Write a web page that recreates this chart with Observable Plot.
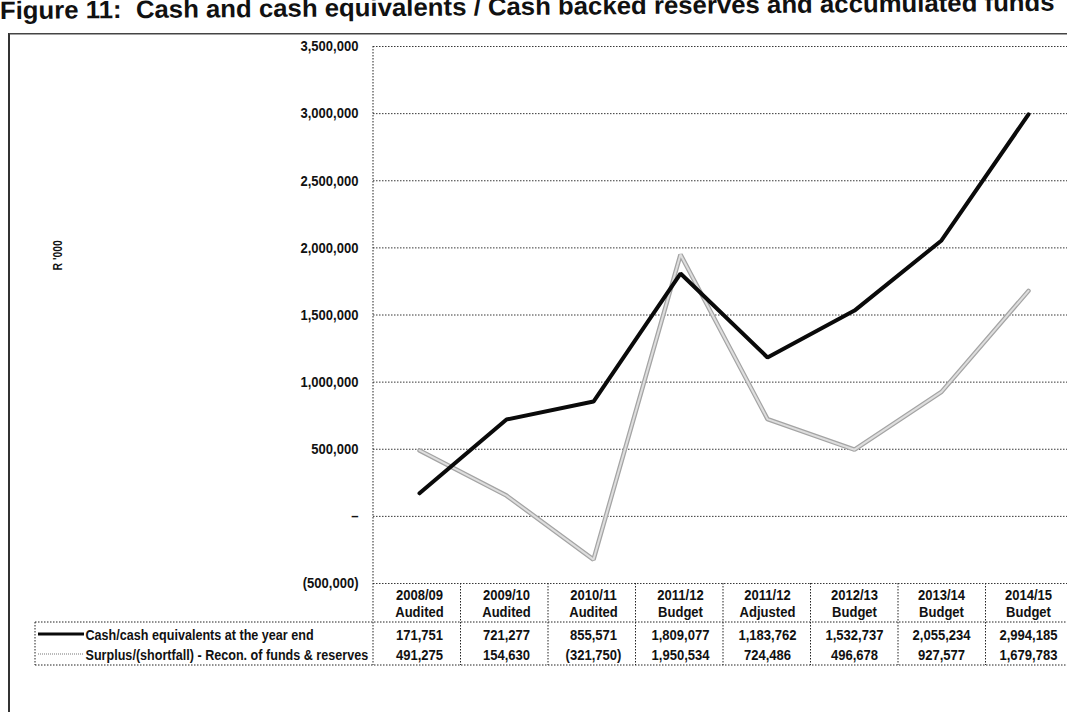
<!DOCTYPE html>
<html><head><meta charset="utf-8">
<script src="https://cdn.jsdelivr.net/npm/d3@7"></script>
<script src="https://cdn.jsdelivr.net/npm/@observablehq/plot@0.6"></script>
<style>
html,body{margin:0;padding:0;background:#fff;width:1067px;height:712px;overflow:hidden}
#title{position:relative;width:1067px;height:33px;overflow:hidden}
#title span{position:absolute;left:0px;top:-2px;font:bold 25px "Liberation Sans",Arial,sans-serif;line-height:1;color:#111;white-space:nowrap;transform:rotate(-0.45deg) scaleX(1.03);transform-origin:0 100%}
#chart{width:1067px;height:679px;overflow:hidden}
#chart svg{display:block}
</style></head>
<body>
<div id="title"><span>Figure 11:&nbsp; Cash and cash equivalents / Cash backed reserves and accumulated funds</span></div>
<div id="chart"></div>
<script>
const categories = ["2008/09\nAudited","2009/10\nAudited","2010/11\nAudited","2011/12\nBudget","2011/12\nAdjusted","2012/13\nBudget","2013/14\nBudget","2014/15\nBudget"];
const cashValues = [171751, 721277, 855571, 1809077, 1183762, 1532737, 2055234, 2994185];
const surplusValues = [491275, 154630, -321750, 1950534, 724486, 496678, 927577, 1679783];
const seriesNames = ["Cash/cash equivalents at the year end", "Surplus/(shortfall) - Recon. of funds & reserves"];
const yTicks = [-500000, 0, 500000, 1000000, 1500000, 2000000, 2500000, 3000000, 3500000];
const yLabel = "R '000";

const fmt = d3.format(",");
const tickFmt = v => v === 0 ? "\u2013" : v < 0 ? `(${fmt(-v)})` : fmt(v);
const cashData = categories.map((c, i) => ({category: c, value: cashValues[i]}));
const surplusData = categories.map((c, i) => ({category: c, value: surplusValues[i]}));

const W = 1067, H = 679, TOP = 33; // svg starts at page y = 33; the last column runs past the right edge
const font = "'Liberation Sans',Arial,sans-serif";
const FS = 15;
const txt = {fontSize: FS, fontWeight: "bold", fill: "#111"};
const rowLabel = {...txt, className: "rowlabel"};

const chart = Plot.plot({
  width: W, height: H,
  marginLeft: 373, marginRight: -6, marginTop: 13, marginBottom: 129,
  style: {fontFamily: font, fontSize: FS + "px", fontWeight: "bold", color: "#111", background: "#fff", overflow: "hidden"},
  x: {type: "point", domain: categories, padding: 0.5, align: 0.5, axis: null},
  y: {domain: [-500000, 3500000], axis: null},
  marks: [
    Plot.gridY(yTicks, {stroke: "#222", strokeOpacity: 0.9, strokeWidth: 1, strokeDasharray: "1.5,1.5"}),
    Plot.axisY(yTicks, {tickFormat: tickFmt, tickSize: 0, tickPadding: 15, fontSize: FS, fontWeight: "bold", label: null}),
    Plot.line(surplusData, {x: "category", y: "value", stroke: "#a4a4a4", strokeWidth: 4.5, strokeLinejoin: "miter"}),
    Plot.line(surplusData, {x: "category", y: "value", stroke: "#dedede", strokeWidth: 2, strokeLinejoin: "miter"}),
    Plot.line(cashData, {x: "category", y: "value", stroke: "#0a0a0a", strokeWidth: 4, strokeLinejoin: "miter"}),
    // table header (two lines)
    Plot.text(categories, {x: d => d, text: d => d.split("\n")[0], frameAnchor: "bottom", dy: 12, lineAnchor: "middle", ...txt}),
    Plot.text(categories, {x: d => d, text: d => d.split("\n")[1], frameAnchor: "bottom", dy: 29, lineAnchor: "middle", ...txt}),
    // table values
    Plot.text(categories, {x: d => d, text: (d, i) => tickFmt(cashValues[i]), frameAnchor: "bottom", dy: 52, lineAnchor: "middle", ...txt}),
    Plot.text(categories, {x: d => d, text: (d, i) => tickFmt(surplusValues[i]), frameAnchor: "bottom", dy: 72, lineAnchor: "middle", ...txt}),
    // row labels
    Plot.text([seriesNames[0]], {frameAnchor: "bottom-left", dx: 85 - 373, dy: 52, textAnchor: "start", lineAnchor: "middle", ...rowLabel}),
    Plot.text([seriesNames[1]], {frameAnchor: "bottom-left", dx: 85 - 373, dy: 72, textAnchor: "start", lineAnchor: "middle", ...rowLabel}),
    // y label
    Plot.text([yLabel], {frameAnchor: "left", dx: 58 - 373, dy: 270 - 33 - (13 + (H - 13 - 129) / 2), rotate: -90, fontSize: 12, fontWeight: "bold", fill: "#111"})
  ]
});
document.getElementById("chart").appendChild(chart);

// narrow the bold face around each text's anchor (the reference uses a condensed bold type)
d3.select(chart).selectAll("text").each(function() {
  const b = this.getBBox();
  if (!b.width) return;
  const anchor = getComputedStyle(this).textAnchor;
  const ax = anchor === "middle" ? b.x + b.width / 2 : anchor === "end" ? b.x + b.width : b.x;
  const s = this.closest(".rowlabel") ? 0.84 : 0.87;
  const t = this.getAttribute("transform") || "";
  this.setAttribute("transform", `${t} translate(${ax},0) scale(${s},1) translate(${-ax},0)`);
});

// table grid, axis line, outer frame, legend swatches
const svg = d3.select(chart);
const xs = chart.scale("x"), ys = chart.scale("y");
const [x0, x1] = xs.range;
const step = (x1 - x0) / categories.length;
const yb = ys.apply(-500000), yt = ys.apply(3500000);
const rowSep = 622 - TOP, rowBottom = 665 - TOP, r1 = 634 - TOP, r2 = 654 - TOP, tableLeft = 35;
const g = svg.append("g").attr("stroke", "#222").attr("stroke-width", 1).attr("stroke-dasharray", "1.5,1.5").attr("fill", "none");
g.append("line").attr("x1", tableLeft).attr("x2", W).attr("y1", rowSep).attr("y2", rowSep);
g.append("line").attr("x1", tableLeft).attr("x2", W).attr("y1", rowBottom).attr("y2", rowBottom);
g.append("line").attr("x1", tableLeft).attr("x2", tableLeft).attr("y1", rowSep).attr("y2", rowBottom);
for (let k = 0; k < categories.length; k++) {
  const xx = x0 + k * step;
  g.append("line").attr("x1", xx).attr("x2", xx).attr("y1", k === 0 ? yt : yb).attr("y2", rowBottom);
}
// outer frame
svg.append("line").attr("x1", 9).attr("x2", 9).attr("y1", 0).attr("y2", H).attr("stroke", "#333").attr("stroke-width", 2);
svg.append("line").attr("x1", 9).attr("x2", W).attr("y1", 0.75).attr("y2", 0.75).attr("stroke", "#444").attr("stroke-width", 1.5);
// legend swatches
svg.append("line").attr("x1", 38).attr("x2", 84).attr("y1", r1).attr("y2", r1).attr("stroke", "#0a0a0a").attr("stroke-width", 3);
svg.append("line").attr("x1", 38).attr("x2", 84).attr("y1", r2).attr("y2", r2).attr("stroke", "#a4a4a4").attr("stroke-width", 1.5).attr("stroke-dasharray", "1,1");
</script>
</body></html>
